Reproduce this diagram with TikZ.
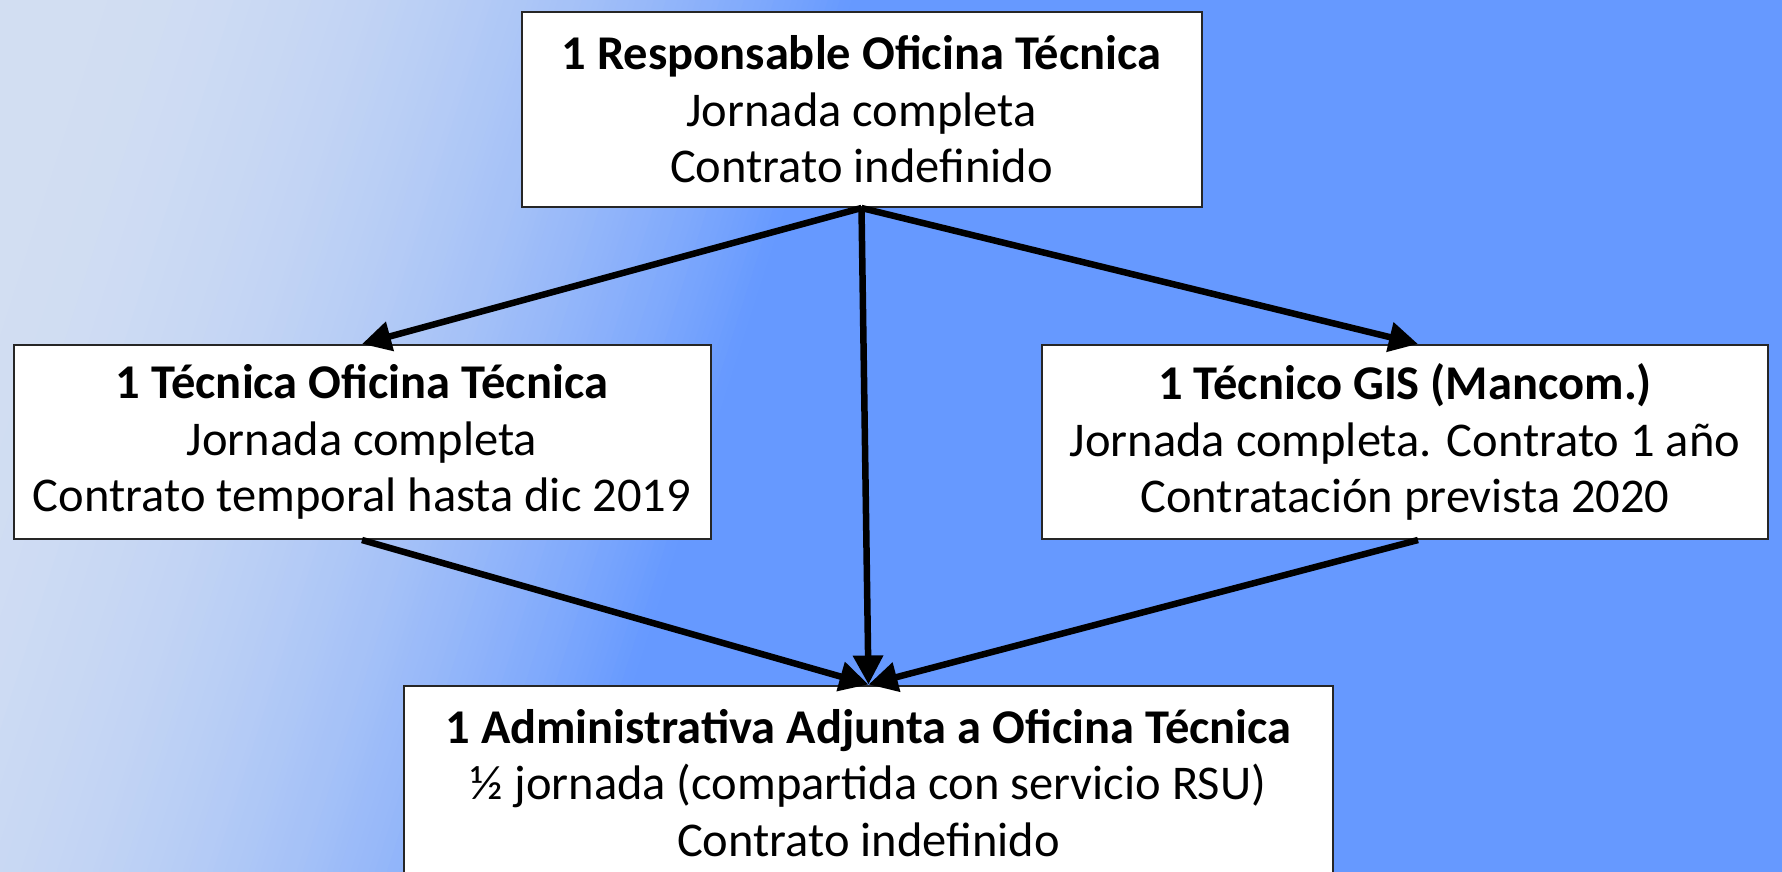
\documentclass[tikz,border=0pt]{standalone}
\usepackage{fontspec}
\setmainfont{Carlito}
\usetikzlibrary{arrows.meta,calc}
\definecolor{bgB}{HTML}{6699FF}
\definecolor{bgL}{HTML}{D2DEF2}
\begin{document}
\begin{tikzpicture}[x=1pt,y=-1pt,
  box/.style={draw=black!85, line width=2pt, fill=white, align=center, inner sep=0pt,
    font=\fontsize{48.5}{56.5}\selectfont},
  conn/.style={line width=6.5pt, -{Triangle[length=29pt,width=29pt]}}]
\useasboundingbox (0,0) rectangle (1782,872);
\begin{scope}
\clip (0,0) rectangle (1782,872);
\fill[bgB] (0,0) rectangle (1782,872);
\foreach \s in {0,6,...,852}{
  \pgfmathtruncatemacro\t{min(100,100*((\s+3)/850)^2.2)}
  \fill[bgB!\t!bgL] (\s,0) -- (\s+7,0) -- (\s+7-279,872) -- (\s-279,872) -- cycle;
}
\end{scope}
\node[box, minimum width=680pt, minimum height=195pt] (top) at (861.5,109.5)
  {\textbf{1 Responsable Oficina Técnica}\\Jornada completa\\Contrato indefinido};
\node[box, minimum width=697pt, minimum height=194pt] (l) at (362,442)
  {\textbf{1 Técnica Oficina Técnica}\\Jornada completa\\Contrato temporal hasta dic 2019};
\node[box, minimum width=726pt, minimum height=194pt] (r) at (1405,442)
  {\textbf{1 Técnico GIS (Mancom.)}\\Jornada completa. Contrato 1 año\\Contratación prevista 2020};
\node[box, minimum width=929pt, minimum height=195pt] (b) at (868.5,783)
  {\textbf{1 Administrativa Adjunta a Oficina Técnica}\\½ jornada (compartida con servicio RSU)\\Contrato indefinido};
\draw[conn] (top.south) -- (l.north);
\draw[conn] (top.south) -- ($(r.north)+(13,0)$);
\draw[conn] (top.south) -- (b.north);
\draw[conn] (l.south) -- (b.north);
\draw[conn] ($(r.south)+(13,0)$) -- (b.north);
\end{tikzpicture}
\end{document}
